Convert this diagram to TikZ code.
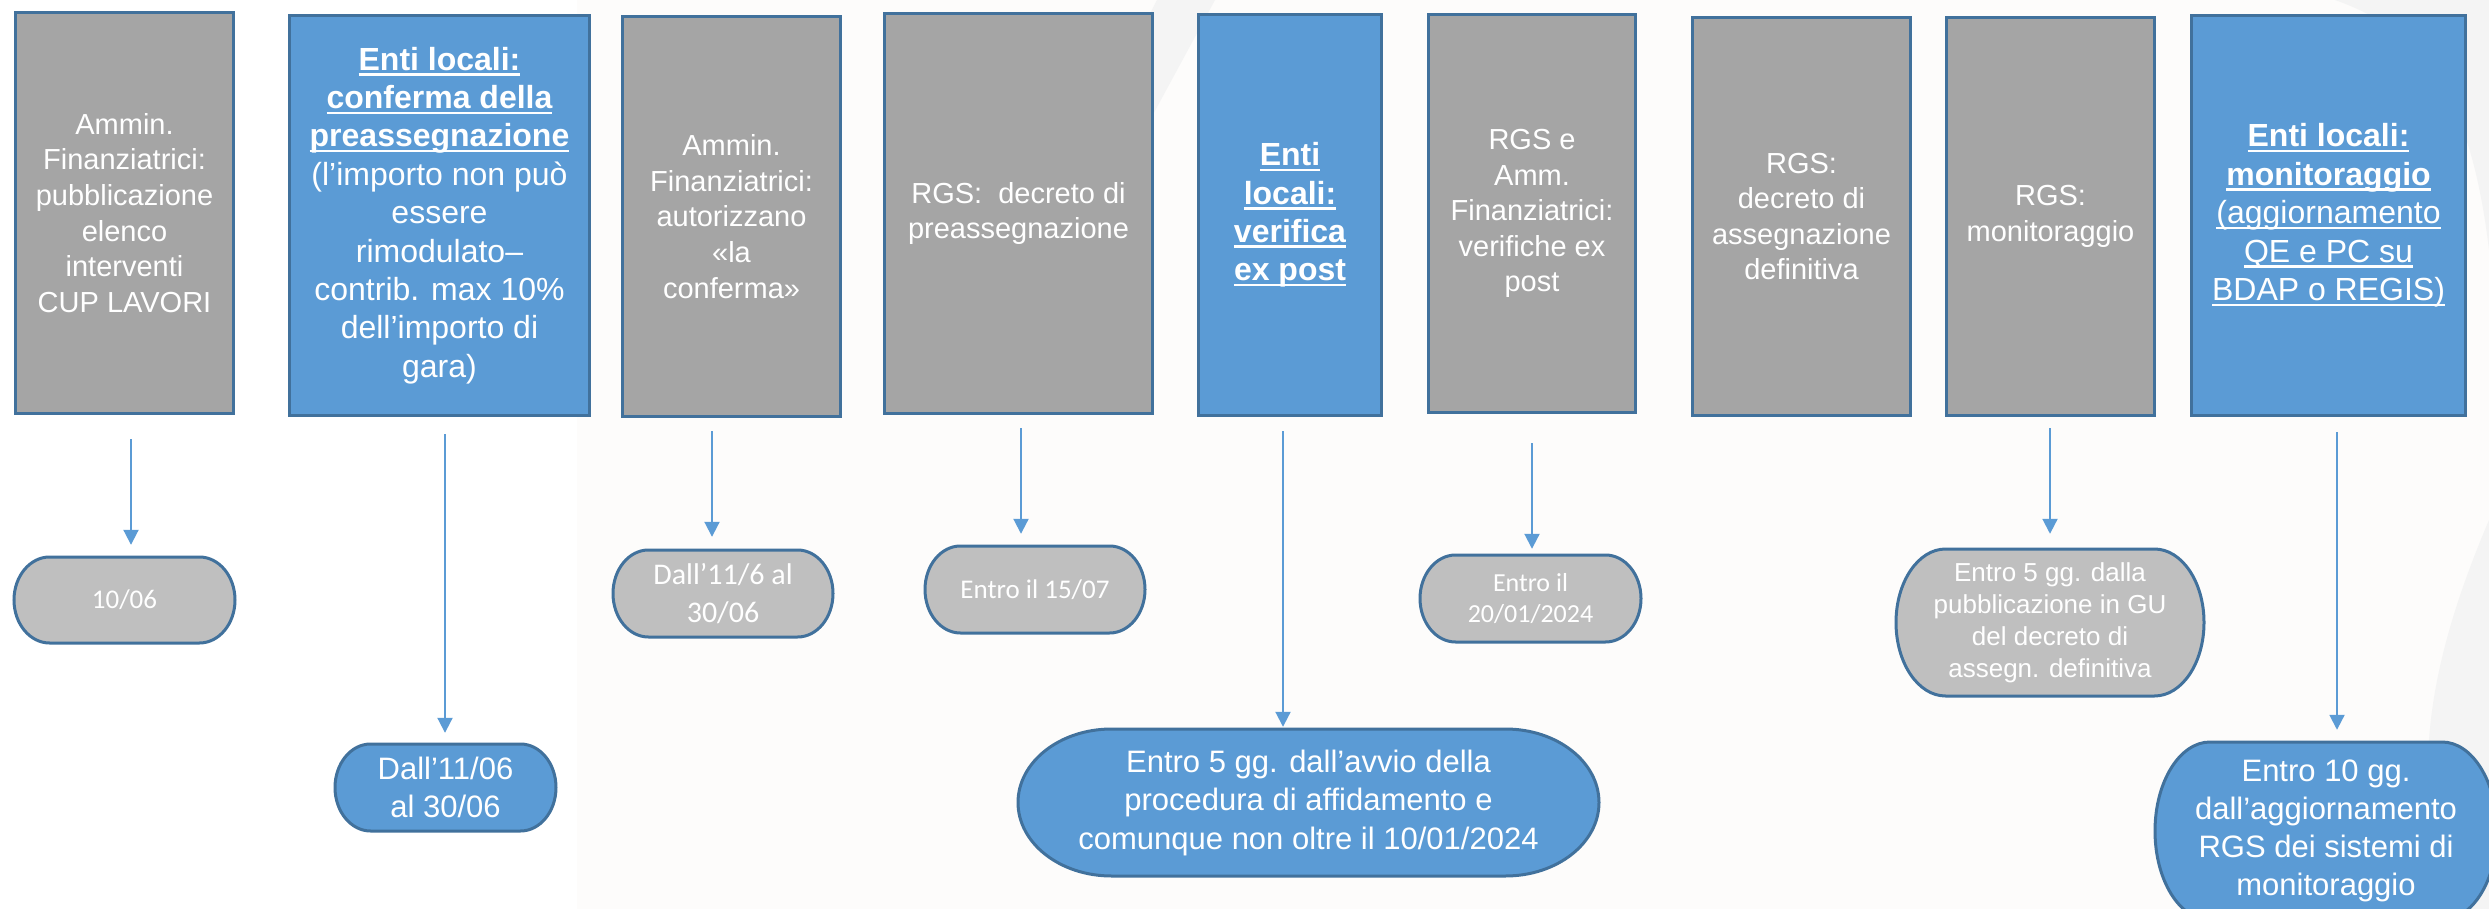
\documentclass[tikz,border=0pt]{standalone}
\usepackage{fontspec}
\setmainfont{Liberation Sans}
\newfontfamily\carl{Carlito}
\usetikzlibrary{arrows.meta}
\definecolor{gfill}{HTML}{A5A5A5}
\definecolor{bfill}{HTML}{5B9BD5}
\definecolor{ofill}{HTML}{BFBFBF}
\definecolor{edgec}{HTML}{41719C}
\definecolor{arrc}{HTML}{5B9BD5}
\definecolor{bgA}{HTML}{FDFCFB}
\definecolor{bgB}{HTML}{F4F4F4}
\newlength\ulw
\newcommand\ulx[1]{\settowidth\ulw{#1}\rlap{\rule[-5.5pt]{\ulw}{2.5pt}}#1}
\newcommand\ulb[1]{\ulx{\bfseries #1}}
\tikzset{
 boxbase/.style={draw=edgec, line width=3pt, inner sep=0pt, text=white, align=center},
 graybox/.style={boxbase, fill=gfill, font=\fontsize{29}{35.6}\selectfont},
 bluebox/.style={boxbase, fill=bfill, font=\fontsize{32}{38.4}\selectfont},
 termline/.style={draw=edgec, line width=3pt},
 ttext/.style={text=white, align=center, inner sep=0pt},
 arr/.style={draw=arrc, line width=2pt, -{Triangle[length=15pt,width=15pt]}},
}
% box: name, x1, y1, x2, y2, style, text
\newcommand\bx[7]{%
 \pgfmathsetmacro\bxw{#4-#2-3}\pgfmathsetmacro\bxh{#5-#3-3}%
 \pgfmathsetmacro\bxx{(#2+#4)/2}\pgfmathsetmacro\bxy{(#3+#5)/2}%
 \node[#6, minimum width=\bxw pt, minimum height=\bxh pt] (#1) at (\bxx,\bxy) {#7};}
% terminator: name, x1, y1, x2, y2, fill, text style, text
\newcommand\term[8]{%
 \pgfmathsetmacro\trx{0.161*(#4-#2)}%
 \pgfmathsetmacro\try{(#5-#3)/2}%
 \pgfmathsetmacro\tym{(#3+#5)/2}%
 \pgfmathsetmacro\txm{(#2+#4)/2}%
 \pgfmathsetmacro\txa{#2+\trx}%
 \pgfmathsetmacro\txb{#4-\trx}%
 \pgfmathsetmacro\tka{0.5523*\trx}%
 \pgfmathsetmacro\tkb{0.5523*\try}%
 \pgfmathsetmacro\tw{#4-#2}%
 \pgfmathsetmacro\th{#5-#3}%
 \draw[termline, fill=#6] (\txa,#3) -- (\txb,#3)
   .. controls (\txb+\tka,#3) and (#4,\tym-\tkb) .. (#4,\tym)
   .. controls (#4,\tym+\tkb) and (\txb+\tka,#5) .. (\txb,#5)
   -- (\txa,#5)
   .. controls (\txa-\tka,#5) and (#2,\tym+\tkb) .. (#2,\tym)
   .. controls (#2,\tym-\tkb) and (\txa-\tka,#3) .. (\txa,#3) -- cycle;
 \node[#7, minimum width=\tw pt, minimum height=\th pt] (#1) at (\txm,\tym) {#8};}
\begin{document}
\begin{tikzpicture}[x=1pt,y=-1pt]
\useasboundingbox (0,0) rectangle (2489,909);
% background
\fill[white] (0,0) rectangle (2489,909);
\fill[bgA] (577,0) rectangle (2489,909);
\fill[bgB] (1157,0) -- (1215,0) -- (1150,120) -- (1095,120) -- cycle;
\fill[bgB] (2335,0) -- (2489,0) -- (2489,250) .. controls (2470,90) and (2420,30) .. (2335,0) -- cycle;
\fill[bgB] (2489,520) .. controls (2455,600) and (2430,680) .. (2428,760) .. controls (2425,820) and (2420,870) .. (2418,909) -- (2489,909) -- cycle;

% top boxes
\bx{b1}{14}{11}{235}{415}{graybox}{Ammin.\\ Finanziatrici:\\ pubblicazione\\ elenco\\ interventi\\ CUP LAVORI}
\bx{b2}{288}{14}{591}{417}{bluebox}{\ulb{Enti locali:}\\ \ulb{conferma della}\\ \ulb{preassegnazione}\\ (l’importo non può\\ essere\\ rimodulato–\\ contrib. max 10\%\\ dell’importo di\\ gara)}
\bx{b3}{621}{15}{842}{418}{graybox}{Ammin.\\ Finanziatrici:\\ autorizzano\\ «la\\ conferma»}
\bx{b4}{883}{12}{1154}{415}{graybox}{RGS:~ decreto di\\ preassegnazione}
\bx{b5}{1197}{13}{1383}{417}{bluebox}{\ulb{Enti}\\ \ulb{locali:}\\ \ulb{verifica}\\ \ulb{ex post}}
\bx{b6}{1427}{13}{1637}{414}{graybox}{RGS e\\ Amm.\\ Finanziatrici:\\ verifiche ex\\ post}
\bx{b7}{1691}{16}{1912}{417}{graybox}{RGS:\\ decreto di\\ assegnazione\\ definitiva}
\bx{b8}{1945}{16}{2156}{417}{graybox}{RGS:\\ monitoraggio}
\bx{b9}{2190}{14}{2467}{417}{bluebox}{\ulb{Enti locali:}\\ \ulb{monitoraggio}\\ \ulx{(aggiornamento}\\ \ulx{QE e PC su}\\ \ulx{BDAP o REGIS)}}

% terminators
\term{t1}{14}{557}{235}{643}{ofill}{ttext, font=\carl\fontsize{27}{33}\selectfont}{10/06}
\term{t2}{335}{744}{556}{831}{bfill}{ttext, font=\fontsize{31}{38}\selectfont}{Dall’11/06\\ al 30/06}
\term{t3}{613}{550}{833}{637}{ofill}{ttext, font=\carl\fontsize{30}{37.5}\selectfont}{Dall’11/6 al\\ 30/06}
\term{t4}{925}{546}{1145}{633}{ofill}{ttext, font=\carl\fontsize{27}{33}\selectfont}{Entro il 15/07}
\term{t5}{1018}{729}{1599}{876}{bfill}{ttext, font=\fontsize{31}{38.5}\selectfont}{Entro 5 gg. dall’avvio della\\ procedura di affidamento e\\ comunque non oltre il 10/01/2024}
\term{t6}{1420}{555}{1641}{642}{ofill}{ttext, font=\carl\fontsize{26}{31.7}\selectfont}{Entro il\\ 20/01/2024}
\term{t7}{1896}{549}{2204}{696}{ofill}{ttext, font=\fontsize{26}{32}\selectfont}{Entro 5 gg. dalla\\ pubblicazione in GU\\ del decreto di\\ assegn. definitiva}
\term{t8}{2155}{742}{2497}{920}{bfill}{ttext, font=\fontsize{31}{37.8}\selectfont}{Entro 10 gg.\\ dall’aggiornamento\\ RGS dei sistemi di\\ monitoraggio}

% connectors
\coordinate (a1) at (131,439);
\coordinate (a2) at (445,434);
\coordinate (a3) at (712,431);
\coordinate (a4) at (1021,428);
\coordinate (a5) at (1283,431);
\coordinate (a6) at (1532,443);
\coordinate (a7) at (2050,428);
\coordinate (a8) at (2337,432);
\draw[arr, shorten >=12pt] (a1) -- (a1 |- t1.north);
\draw[arr, shorten >=11pt] (a2) -- (a2 |- t2.north);
\draw[arr, shorten >=13pt] (a3) -- (a3 |- t3.north);
\draw[arr, shorten >=12pt] (a4) -- (a4 |- t4.north);
\draw[arr, shorten >=2pt] (a5) -- (a5 |- t5.north);
\draw[arr, shorten >=6pt] (a6) -- (a6 |- t6.north);
\draw[arr, shorten >=15pt] (a7) -- (a7 |- t7.north);
\draw[arr, shorten >=12pt] (a8) -- (a8 |- t8.north);
\end{tikzpicture}
\end{document}
